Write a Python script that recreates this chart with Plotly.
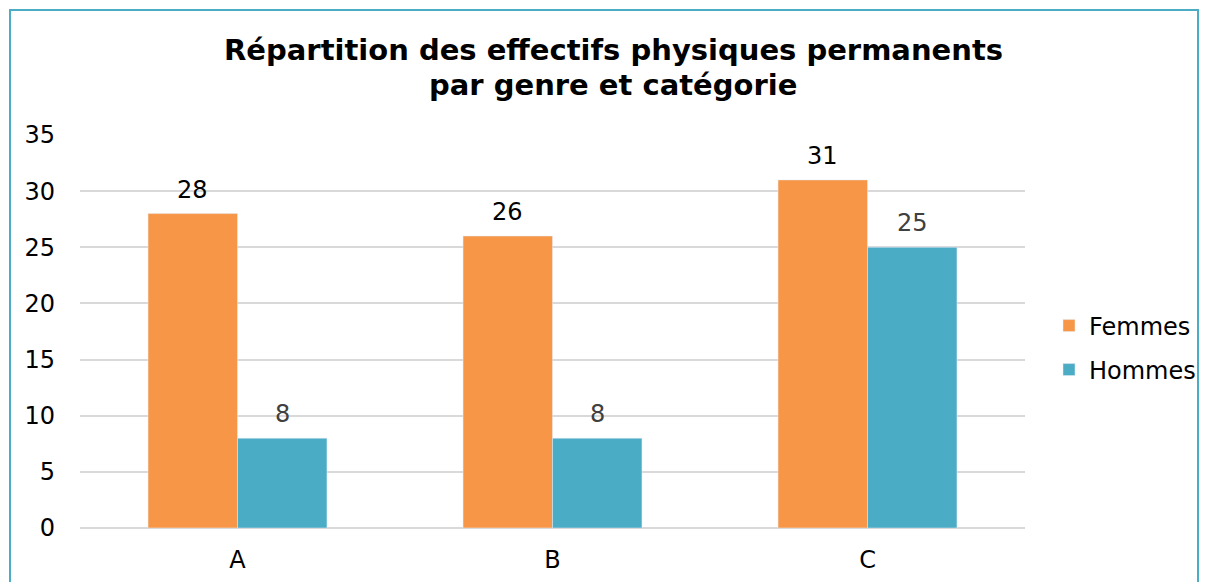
import plotly.graph_objects as go

categories = ["A", "B", "C"]
femmes = [28, 26, 31]
hommes = [8, 8, 25]
y_ticks = [0, 5, 10, 15, 20, 25, 30, 35]
title_lines = ["Répartition des effectifs physiques permanents", "par genre et catégorie"]

W, H = 1208, 582
ml, mr, mt, mb = 80, 183, 135, 54
pw, ph = W - ml - mr, H - mt - mb
FS = 24

def px_x(x):
    return (x - ml) / pw

def px_y(y):
    return (H - mb - y) / ph

fig = go.Figure()
fig.add_trace(go.Bar(name="Femmes", x=categories, y=femmes, marker_color="#F79646",
                     legend="legend"))
fig.add_trace(go.Bar(name="Hommes", x=categories, y=hommes, marker_color="#4BACC6",
                     legend="legend2"))

# data labels
for cat, v in zip(categories, femmes):
    fig.add_annotation(x=cat, y=v, text=str(v), showarrow=False, xshift=-45,
                       yanchor="bottom", yshift=8,
                       font=dict(color="#000000", size=FS, family="DejaVu Sans"))
for cat, v in zip(categories, hommes):
    fig.add_annotation(x=cat, y=v, text=str(v), showarrow=False, xshift=45,
                       yanchor="bottom", yshift=8,
                       font=dict(color="#404040", size=FS, family="DejaVu Sans"))

# title, two lines
for line, ypix in zip(title_lines, [50, 85]):
    fig.add_annotation(xref="paper", yref="paper", x=px_x(613), y=px_y(ypix),
                       xanchor="center", yanchor="middle", showarrow=False,
                       text="<b>" + line + "</b>",
                       font=dict(family="DejaVu Sans", size=29, color="#000000"))

fig.add_shape(type="rect", xref="paper", yref="paper",
              x0=px_x(10), x1=px_x(1198), y0=px_y(600), y1=px_y(10),
              line=dict(color="#4BACC6", width=2), fillcolor="rgba(0,0,0,0)")

leg_common = dict(xanchor="left", yanchor="middle", bgcolor="rgba(0,0,0,0)",
                  font=dict(size=FS, color="#000000", family="DejaVu Sans"))

fig.update_layout(
    width=W, height=H, autosize=False,
    margin=dict(l=ml, r=mr, t=mt, b=mb, autoexpand=False),
    paper_bgcolor="white", plot_bgcolor="white",
    barmode="group", bargap=0.432, bargroupgap=0,
    font=dict(family="DejaVu Sans", size=FS, color="#000000"),
    legend=dict(x=px_x(1049), y=px_y(326), **leg_common),
    legend2=dict(x=px_x(1049), y=px_y(370), **leg_common),
    xaxis=dict(showgrid=False, showline=False, ticks="", ticklabelstandoff=15,
               tickfont=dict(size=FS, color="#000000")),
    yaxis=dict(range=[0, 35], tickvals=y_ticks, showgrid=True, gridcolor="#d9d9d9",
               gridwidth=1.5, zeroline=True, zerolinecolor="#d9d9d9", zerolinewidth=1.5,
               ticks="", ticklabelstandoff=24, tickfont=dict(size=FS, color="#000000")),
    showlegend=True,
)

fig.write_html(
    "out.html",
    config={"responsive": False, "displayModeBar": False},
    post_script="document.body.style.margin='0';document.body.style.overflow='hidden';",
)
